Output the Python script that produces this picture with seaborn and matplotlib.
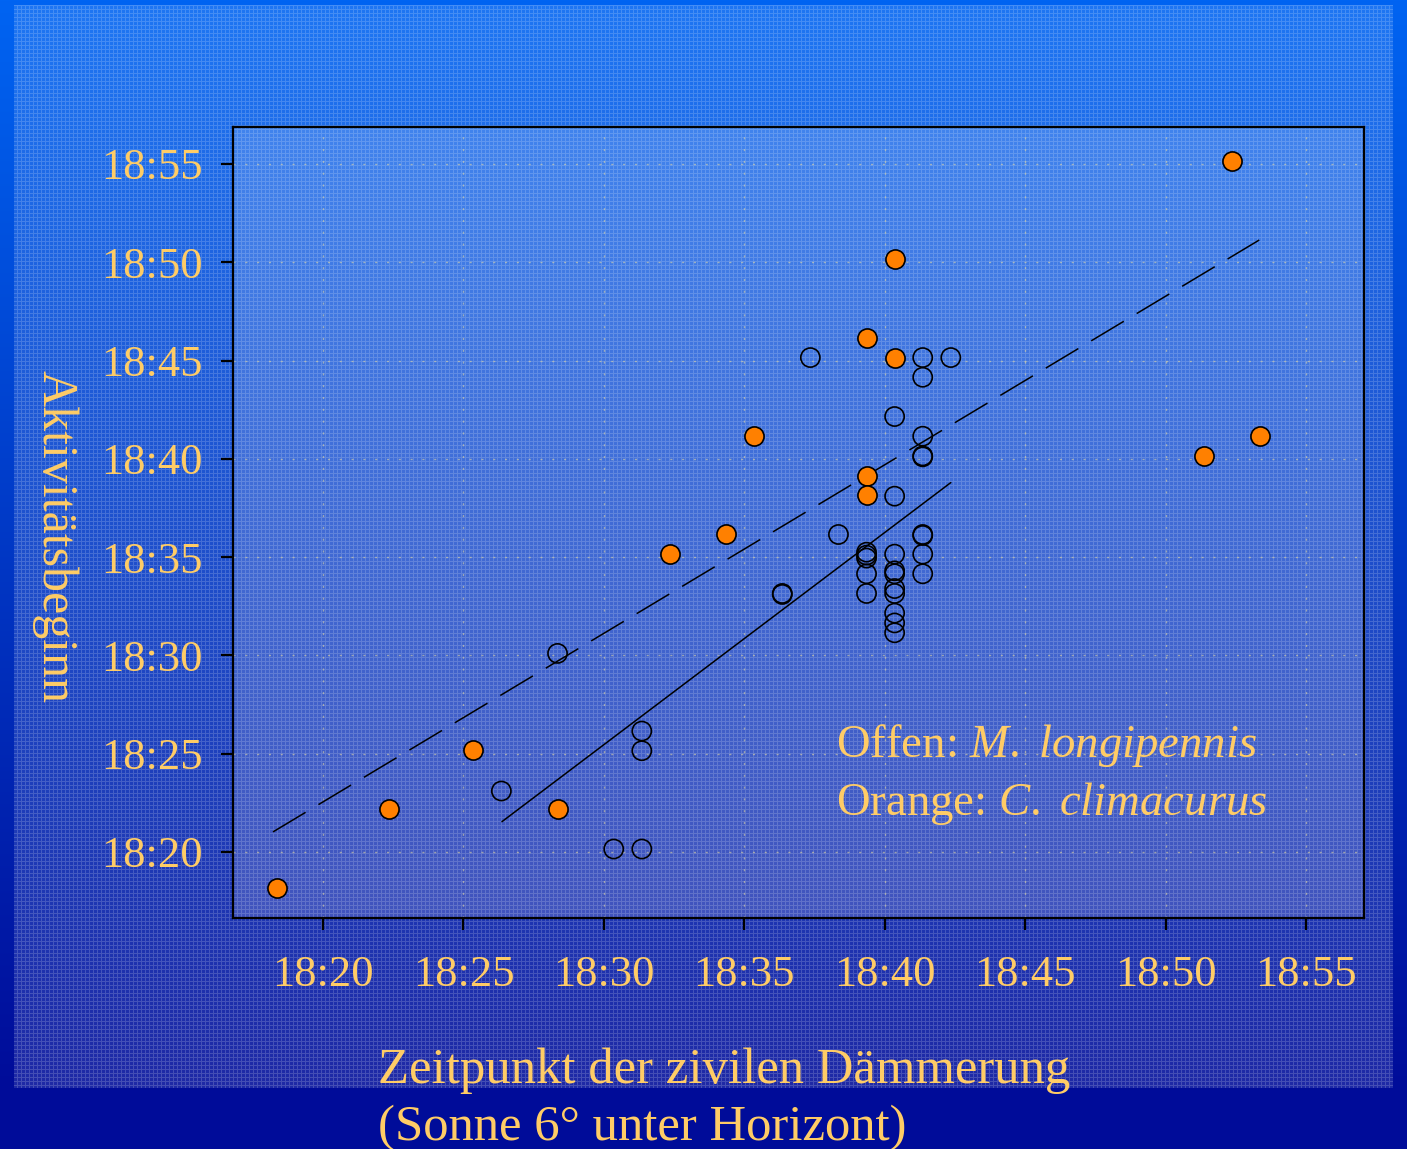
import matplotlib
matplotlib.use("Agg")
import matplotlib.pyplot as plt
import numpy as np
import pandas as pd
import seaborn as sns

# times are minutes after 18:00
orange_x = [18.35, 22.35, 25.35, 28.35, 32.35, 34.35, 35.35, 39.35, 39.35, 39.35,
            40.35, 40.35, 51.35, 52.35, 53.35]
orange_y = [18.17, 22.18, 25.18, 22.18, 35.15, 36.15, 41.15, 46.15, 39.15, 38.15,
            50.15, 45.15, 40.15, 55.15, 41.15]

open_x = [26.35, 28.35, 30.35, 31.35, 31.35, 31.35, 36.35, 36.35, 37.35, 38.35,
          39.35, 39.35, 39.35, 39.35, 39.35,
          40.35, 40.35, 40.35, 40.35, 40.35, 40.35, 40.35, 40.35, 40.35, 40.35,
          41.35, 41.35, 41.35, 41.35, 41.35, 41.35, 41.35, 41.35, 41.35,
          42.35]
open_y = [23.10, 30.10, 20.15, 20.15, 26.15, 25.15, 33.10, 33.15, 45.15, 36.15,
          35.25, 35.10, 34.95, 34.15, 33.15,
          42.15, 38.10, 35.15, 34.30, 34.15, 33.40, 33.15, 32.15, 31.65, 31.15,
          45.15, 44.15, 41.15, 40.15, 40.10, 36.15, 36.10, 35.15, 34.15,
          45.15]

# fitted lines as drawn (start / end)
fit_orange_x = [18.22, 53.33]
fit_orange_y = [21.02, 51.13]
fit_open_x = [26.37, 42.35]
fit_open_y = [21.54, 38.79]

tick_minutes = [20, 25, 30, 35, 40, 45, 50, 55]
tick_labels = [f"18:{m}" for m in tick_minutes]

TEXT = "#FFCC66"
W, H = 1407, 1149
AX_L, AX_R, AX_T, AX_B = 233, 1364, 127, 918

sns.set_style("ticks")
plt.rcParams["font.family"] = ["Liberation Serif", "DejaVu Serif"]
plt.rcParams["mathtext.fontset"] = "custom"
plt.rcParams["mathtext.rm"] = "Liberation Serif"
plt.rcParams["mathtext.it"] = "Liberation Serif:italic"

# slide background: blue gradient with a fine woven texture
yy, xx = np.mgrid[0:H, 0:W]
t = np.clip(yy / 1088, 0, 1)[..., None]
top = np.array([0, 100, 242]) / 255
bot = np.array([0, 12, 153]) / 255
img = top * (1 - t) + bot * t
inner = (xx >= 14) & (xx < 1393) & (yy >= 5) & (yy < 1088)
tex = (xx % 4 == 1) | (yy % 4 == 1)
a = np.where(tex, 0.27, 0.12) * inner
img = img + (1 - img) * a[..., None]
plot_area = (xx >= AX_L) & (xx < AX_R) & (yy >= AX_T) & (yy < AX_B)
img = img + (1 - img) * (0.15 * plot_area)[..., None]

fig = plt.figure(figsize=(W / 100, H / 100), dpi=100)
bg = fig.add_axes([0, 0, 1, 1], zorder=0)
bg.imshow(img, aspect="auto", interpolation="nearest")
bg.axis("off")

ax = fig.add_axes([AX_L / W, 1 - AX_B / H, (AX_R - AX_L) / W, (AX_B - AX_T) / H], zorder=1)
ax.set_facecolor("none")

orange = pd.DataFrame({"x": orange_x, "y": orange_y})
hollow = pd.DataFrame({"x": open_x, "y": open_y})

ax.plot(fit_orange_x, fit_orange_y, color="black", lw=1.1,
        linestyle=(0, (24.9, 9.8)), zorder=2)
ax.plot(fit_open_x, fit_open_y, color="black", lw=1.1, zorder=2)

sns.scatterplot(data=hollow, x="x", y="y", ax=ax, s=190, marker="o",
                facecolor="none", edgecolor="black", linewidth=1.2, zorder=3)
sns.scatterplot(data=orange, x="x", y="y", ax=ax, s=190, marker="o",
                color="#FF8000", edgecolor="black", linewidth=1.2, zorder=4)

ax.set_xlim(16.796, 57.06)
ax.set_ylim(16.64, 56.88)
ax.set_xticks(tick_minutes)
ax.set_xticklabels(tick_labels)
ax.set_yticks(tick_minutes)
ax.set_yticklabels(tick_labels)
ax.set_xlabel("")
ax.set_ylabel("")
ax.grid(True, color="#e8dca0", linestyle=(0, (1.5, 7)), linewidth=1.0, alpha=0.55)
ax.tick_params(direction="out", length=8.6, width=1.6, color="black",
               labelcolor=TEXT, labelsize=32)
ax.tick_params(axis="x", pad=18)
ax.tick_params(axis="y", pad=13)
for side in ["left", "right", "top", "bottom"]:
    ax.spines[side].set_visible(True)
    ax.spines[side].set_color("black")
    ax.spines[side].set_linewidth(1.6)

fig.text(836 / W, 1 - 757 / H, r"Offen: $\mathit{M.\ longipennis}$",
         color=TEXT, fontsize=33.7, va="baseline", ha="left")
fig.text(836 / W, 1 - 815 / H, r"Orange: $\mathit{C.\ climacurus}$",
         color=TEXT, fontsize=33.7, va="baseline", ha="left")

fig.text(55 / W, 1 - 537 / H, "Aktivitätsbeginn", color=TEXT, fontsize=36,
         rotation=-90, ha="center", va="center")
fig.text(378 / W, 1 - 1083 / H, "Zeitpunkt der zivilen Dämmerung",
         color=TEXT, fontsize=36.5, ha="left", va="baseline")
fig.text(378 / W, 1 - 1140 / H, "(Sonne 6° unter Horizont)",
         color=TEXT, fontsize=36.5, ha="left", va="baseline")

fig.savefig("out.png", dpi=100)
